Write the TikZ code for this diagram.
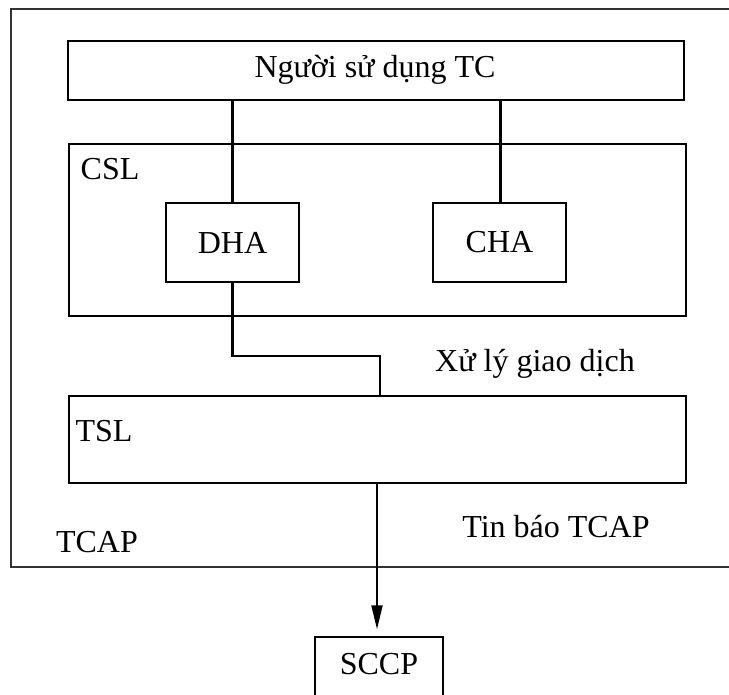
\documentclass[tikz,border=0pt]{standalone}
\usepackage{fontspec}
\setmainfont{Liberation Serif}
\usetikzlibrary{arrows.meta}
\begin{document}
\begin{tikzpicture}[x=1pt,y=-1pt,
  box/.style={draw, line width=2.6pt, inner sep=0pt},
  lbl/.style={font=\fontsize{32}{36}\selectfont, inner sep=0pt, anchor=center},
  frame/.style={draw=black!80, line width=2.2pt},
  wire/.style={line width=2.6pt}]
\useasboundingbox (0,0) rectangle (729,695);
% outer frame
\draw[frame] (729,9) -- (11,9) -- (11,567) -- (729,567);
% boxes
\node[box, minimum width=616pt, minimum height=59pt] (user) at (376,70.5) {};
\node[lbl] (usert) at (375,70) {Người sử dụng TC};
\node[box, minimum width=617pt, minimum height=172pt] (csl) at (377.5,230) {};
\node[lbl] (cslt) at (110,169) {CSL};
\node[box, minimum width=133pt, minimum height=79pt, lbl] (dha) at (232.5,242.5) {DHA};
\node[box, minimum width=133pt, minimum height=79pt, lbl] (cha) at (499.5,242.5) {CHA};
\node[box, minimum width=617pt, minimum height=87pt] (tsl) at (377.5,439.5) {};
\node[lbl] (tslt) at (104,431) {TSL};
\node[lbl] (xl) at (535,364) {Xử lý giao dịch};
\node[lbl] (tb) at (556,527) {Tin báo TCAP};
\node[lbl] (tcap) at (97,542) {TCAP};
% SCCP open box
\draw[line width=2.2pt] (315,695) -- (315,637) -- (443,637) -- (443,695);
\coordinate (sccptop) at (378,637);
\node[lbl] (sccp) at (379,664) {SCCP};
% connectors
\draw[wire] (user.south -| dha) -- (dha.north);
\draw[wire] (user.south -| cha.north) ++(1,0) -- ++(0,103);
\coordinate (bend1) at (232.5,356);
\coordinate (bend2) at (380,356);
\draw[wire] (dha.south) -- (bend1) -- (bend2) -- (bend2 |- tsl.north);
\draw[line width=2pt, -{Triangle[length=24pt,width=11pt]}] (tsl.south -| sccptop) ++(-1,0) -- ++(0,145);
\end{tikzpicture}
\end{document}
